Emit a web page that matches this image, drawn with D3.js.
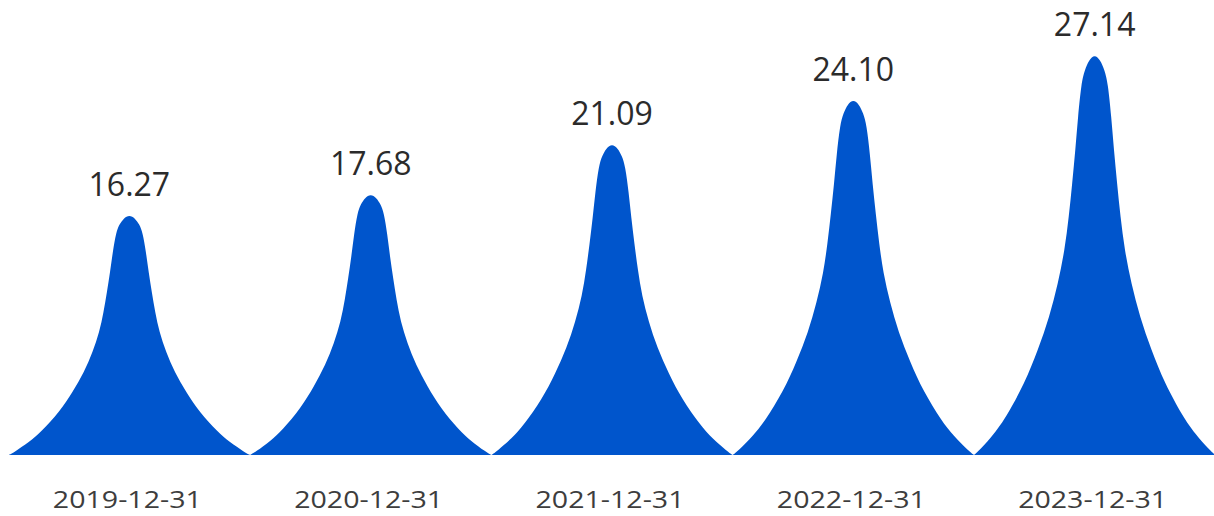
<!DOCTYPE html>
<html>
<head>
<meta charset="utf-8">
<script src="https://cdn.jsdelivr.net/npm/d3@7/dist/d3.min.js"></script>
<style>
  html, body { margin: 0; padding: 0; background: #fff; }
  svg { display: block; }
</style>
</head>
<body>
<svg id="chart" width="1214" height="516"></svg>
<script>
// Year-end values
const categories = ["2019-12-31", "2020-12-31", "2021-12-31", "2022-12-31", "2023-12-31"];
const values = [16.27, 17.68, 21.09, 24.10, 27.14];
const valueLabels = ["16.27", "17.68", "21.09", "24.10", "27.14"];

// Peak glyph control polygon: [half-width as share of band, depth from tip as share of height]
const peakProfile = [
  [0.000, -0.004], [0.0235, 0.010], [0.041, 0.035], [0.055, 0.068],
  [0.069, 0.152], [0.080, 0.236], [0.093, 0.319], [0.107, 0.403],
  [0.124, 0.486], [0.152, 0.570], [0.187, 0.653], [0.235, 0.737],
  [0.290, 0.820], [0.366, 0.904], [0.415, 0.946], [0.477, 0.988],
  [0.500, 1.000]
];

const svg = d3.select("#chart");

const x = d3.scaleBand().domain(categories).range([8.7, 1215.3]).padding(0);
const y = d3.scaleLinear().domain([0, 30]).range([455, 14]);

const color = "#0055cc";

// Full outline of one peak: left flank up to the tip, right flank back down
const outlinePts = peakProfile.slice().reverse().map(([h, t]) => [-h, t])
  .concat(peakProfile.slice(1).map(([h, t]) => [h, t]));

const line = d3.line().curve(d3.curveBasis);

function peakPath(cat, v) {
  const cx = x(cat) + x.bandwidth() / 2;
  const bw = x.bandwidth();
  const base = y(0), top = y(v), hgt = base - top;
  const pts = outlinePts.map(([h, t]) => [cx + h * bw, top + t * hgt]);
  return line(pts) + "Z";
}

const data = categories.map((c, i) => ({ c, v: values[i], label: valueLabels[i] }));

svg.append("g").selectAll("path")
  .data(data)
  .join("path")
  .attr("d", d => peakPath(d.c, d.v))
  .attr("fill", color);

// Value labels above each peak
svg.append("g").selectAll("text")
  .data(data)
  .join("text")
  .attr("x", d => x(d.c) + x.bandwidth() / 2)
  .attr("y", d => y(d.v) - 20)
  .attr("text-anchor", "middle")
  .attr("font-family", "'Open Sans', sans-serif")
  .attr("font-size", 32)
  .attr("fill", "#2b2b2b")
  .text(d => d.label);

// Category axis labels
const axis = d3.axisBottom(x).tickSize(0).tickPadding(0);
const gAxis = svg.append("g")
  .attr("transform", `translate(-2,${y(0)})`)
  .call(axis);
gAxis.select(".domain").remove();
gAxis.selectAll("text")
  .attr("dy", null)
  .attr("y", 53)
  .attr("font-family", "'Open Sans', sans-serif")
  .attr("font-size", 24)
  .attr("fill", "#3d3d3d")
  .attr("textLength", 149)
  .attr("lengthAdjust", "spacingAndGlyphs");
</script>
</body>
</html>
